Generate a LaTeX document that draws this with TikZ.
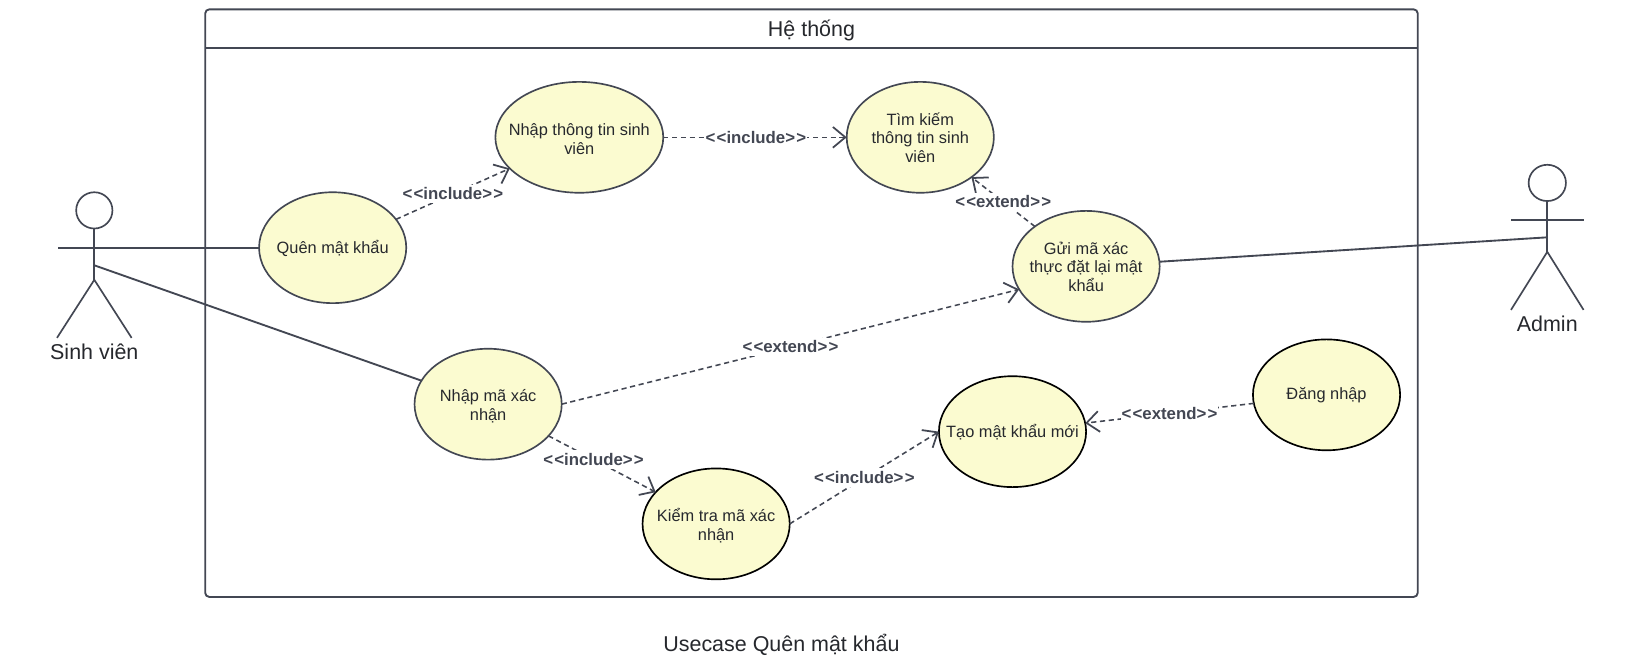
\documentclass[tikz,border=0pt]{standalone}
\usepackage{fontspec}
\setmainfont{Liberation Sans}
\usetikzlibrary{shapes.geometric,arrows.meta}
\definecolor{ln}{HTML}{434753}
\definecolor{uc}{HTML}{FBFBD0}
\definecolor{tx}{HTML}{26282D}
\newcommand{\uctext}[2][-3.9pt]{\makebox[0pt]{\raisebox{#1}[0pt][0pt]{\parbox[c]{220pt}{\centering #2}}}}
\newcommand{\inc}{<\kern1.2pt<include>\kern1.2pt>}
\newcommand{\ext}{<\kern1.2pt<extend>\kern1.2pt>}
\tikzset{
  usecase/.style={draw=ln,fill=uc,ellipse,line width=1.6pt,inner sep=0pt,outer sep=0pt,minimum width=142pt,minimum height=107pt,text=tx,font=\fontsize{15.8}{18}\selectfont},
  usecaseb/.style={usecase,draw=black},
  assoc/.style={draw=ln,line width=1.8pt},
  dep/.style={draw=ln,line width=1.5pt,dash pattern=on 5pt off 3.5pt,-{Straight Barb[length=12pt,width=20pt,line width=1.7pt]}},
  deplabel/.style={fill=white,inner xsep=1pt,inner ysep=3pt,text=ln,font=\bfseries\fontsize{16.2}{19}\selectfont},
  limb/.style={draw=ln,line width=1.6pt},
  big/.style={text=tx,font=\fontsize{20.7}{24}\selectfont}
}
\begin{document}
\begin{tikzpicture}[x=1pt,y=-1pt]
\useasboundingbox (0,0) rectangle (1568,639.7);
\fill[white] (0,0) rectangle (1568,639.7);
% system box
\node[draw=ln,line width=1.8pt,rounded corners=4pt,minimum width=1170pt,minimum height=567pt,inner sep=0pt] (sys) at (783,292.5) {};
\coordinate (hl) at (198,46);
\coordinate (hr) at (1368,46);
\draw[draw=ln,line width=1.8pt] (hl) -- (hr);
\node[big] (title) at (783,29) {Hệ thống};
\node[big] (cap) at (754,622) {Usecase Quên mật khẩu};
% actors
\node[draw=ln,line width=1.6pt,circle,minimum size=35pt,inner sep=0pt] (svh) at (91,203) {};
\coordinate (svn) at (91,270);
\coordinate (svl) at (56,239);
\coordinate (svr) at (126,239);
\coordinate (svfl) at (55,326);
\coordinate (svfr) at (127,326);
\coordinate (svc) at (91,256);
\draw[limb] (svh) -- (svn);
\draw[limb] (svl) -- (svr);
\draw[limb] (svfl) -- (svn) -- (svfr);
\node[big] (svt) at (91,339) {Sinh viên};
\node[draw=ln,line width=1.6pt,ellipse,minimum width=36pt,minimum height=35pt,inner sep=0pt] (adh) at (1493,176.5) {};
\coordinate (adn) at (1493,243);
\coordinate (adl) at (1458,212);
\coordinate (adr) at (1528,212);
\coordinate (adfl) at (1458,299);
\coordinate (adfr) at (1528,299);
\coordinate (adc) at (1493,229);
\draw[limb] (adh) -- (adn);
\draw[limb] (adl) -- (adr);
\draw[limb] (adfl) -- (adn) -- (adfr);
\node[big] (adt) at (1493,312) {Admin};
% use cases
\node[usecase] (quen) at (321,239) {\uctext{Quên mật khẩu}};
\node[usecase,minimum width=162pt] (nhaptt) at (559,132.5) {\uctext[-5.4pt]{Nhập thông tin sinh\\viên}};
\node[usecase] (tim) at (888,132.5) {\uctext{Tìm kiếm\\thông tin sinh\\viên}};
\node[usecase] (gui) at (1048,257) {\uctext{Gửi mã xác\\thực đặt lại mật\\khẩu}};
\node[usecase] (nhapma) at (471,390) {\uctext[-5.4pt]{Nhập mã xác\\nhận}};
\node[usecaseb] (kiem) at (691,505.5) {\uctext[-5.4pt]{Kiểm tra mã xác\\nhận}};
\node[usecaseb] (tao) at (977,416.5) {\uctext{Tạo mật khẩu mới}};
\node[usecaseb] (dang) at (1280,381) {\uctext{Đăng nhập}};
% associations
\draw[assoc] (svr) -- (quen.west);
\draw[assoc] (svc) -- (nhapma);
\draw[assoc] (adc) -- (gui);
% dependencies
\draw[dep] (quen) -- (nhaptt) node[deplabel,pos=0.5] (l1) {\inc};
\draw[dep] (nhaptt) -- (tim) node[deplabel,pos=0.505,inner ysep=1pt] (l2) {\inc};
\draw[dep] (gui) -- (tim) node[deplabel,pos=0.5] (l3) {\ext};
\draw[dep] (nhapma.east) -- (gui.199) node[deplabel,pos=0.5] (l4) {\ext};
\draw[dep] (nhapma) -- (kiem) node[deplabel,pos=0.42] (l5) {\inc};
\draw[dep] (kiem.east) -- (tao.west) node[deplabel,pos=0.5] (l6) {\inc};
\draw[dep] (dang) -- (tao) node[deplabel,pos=0.5] (l7) {\ext};
\end{tikzpicture}
\end{document}
